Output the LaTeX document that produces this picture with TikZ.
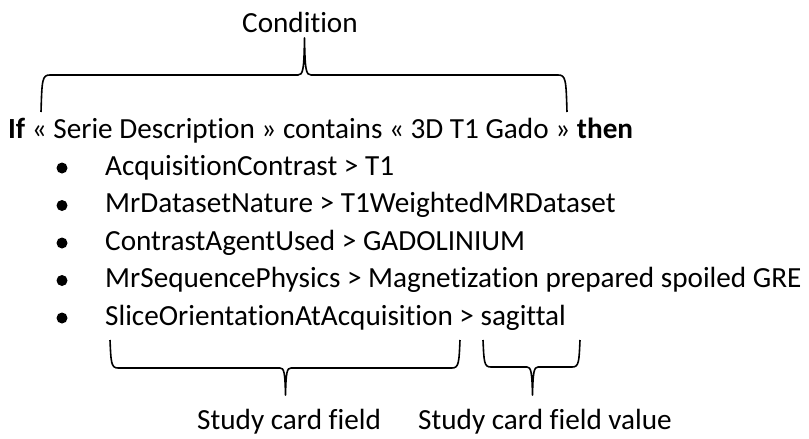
\documentclass[tikz,border=0pt]{standalone}
\usepackage{fontspec}
\setmainfont{Carlito}[Ligatures=NoCommon]
\begin{document}
\begin{tikzpicture}[x=1pt, y=-1pt]
\tikzset{txt/.style={inner sep=0pt, anchor=base west, font=\fontsize{29.2}{34}\selectfont},
  dot/.style={circle, fill=black, inner sep=0pt, minimum size=11pt},
  brace/.style={line width=1.6pt, line join=round}}
\useasboundingbox (0,0) rectangle (809,439);
\node[txt, anchor=base] (cond) at (300, 32) {Condition};
\draw[brace] (41, 112) .. controls (42, 80) and (42, 75) .. (50, 75) -- (298, 75)
  .. controls (303, 75) and (304, 70) .. (304.5, 38)
  .. controls (305, 70) and (306, 75) .. (311, 75) -- (558, 75)
  .. controls (566, 75) and (566, 80) .. (567, 112);
\node[txt] (rule) at (8, 138) {\textbf{If} « Serie Description » contains « 3D T1 Gado » \textbf{then}};
\node[dot] (b1) at (62, 168) {};
\node[txt] (f1) at (105, 175) {AcquisitionContrast > T1};
\node[dot] (b2) at (62, 205.5) {};
\node[txt] (f2) at (105, 212.5) {MrDatasetNature > T1WeightedMRDataset};
\node[dot] (b3) at (62, 243) {};
\node[txt] (f3) at (105, 250) {ContrastAgentUsed > GADOLINIUM};
\node[dot] (b4) at (62, 280.5) {};
\node[txt] (f4) at (105, 287.5) {MrSequencePhysics > Magnetization prepared spoiled GRE};
\node[dot] (b5) at (62, 318) {};
\node[txt] (f5) at (105, 325) {SliceOrientationAtAcquisition > sagittal};
\draw[brace] (110, 340) .. controls (111, 362) and (111, 368) .. (118, 368) -- (280, 368)
  .. controls (284, 368) and (285, 372) .. (285.5, 395)
  .. controls (286, 372) and (287, 368) .. (291, 368) -- (452, 368)
  .. controls (459, 368) and (459, 362) .. (460, 340);
\draw[brace] (483, 340) .. controls (484, 362) and (484, 367) .. (491, 367) -- (527, 367)
  .. controls (531, 367) and (532, 372) .. (532.5, 395)
  .. controls (533, 372) and (534, 367) .. (538, 367) -- (572, 367)
  .. controls (579, 367) and (579, 362) .. (580, 340);
\node[txt] (field) at (197, 429) {Study card field};
\node[txt] (value) at (418, 429) {Study card field value};
\end{tikzpicture}
\end{document}
